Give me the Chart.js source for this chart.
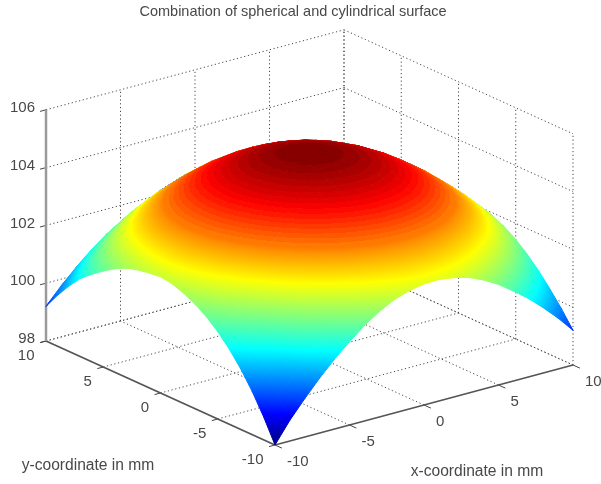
<!DOCTYPE html>
<html>
<head>
<meta charset="utf-8">
<title>Combination of spherical and cylindrical surface</title>
<script src="https://cdn.jsdelivr.net/npm/chart.js@4"></script>
<style>
    html, body { margin: 0; padding: 0; background: #fff; }
    canvas { display: block; }
</style>
</head>
<body>
<canvas id="surfaceChart" width="601" height="484"></canvas>
<script>
// Tick values on the three axes
const xTicks = [-10, -5, 0, 5, 10];
const yTicks = [-10, -5, 0, 5, 10];
const zTicks = [98, 100, 102, 104, 106];

// Surface height, every 1 mm. One row per y, from y = -10 to y = 10
const xGrid = [-10, -9, -8, -7, -6, -5, -4, -3, -2, -1, 0, 1, 2, 3, 4, 5, 6, 7, 8, 9, 10];
const yGrid = [-10, -9, -8, -7, -6, -5, -4, -3, -2, -1, 0, 1, 2, 3, 4, 5, 6, 7, 8, 9, 10];
const zRows = [
    [98.00,98.72,99.33,99.90,100.42,100.88,101.30,101.65,101.92,102.09,102.19,102.20,102.13,102.00,101.77,101.48,101.11,100.72,100.26,99.76,99.20],
    [98.80,99.40,99.94,100.49,100.98,101.42,101.83,102.15,102.39,102.55,102.64,102.65,102.59,102.46,102.25,101.98,101.63,101.24,100.80,100.30,99.76],
    [99.50,100.03,100.52,101.05,101.53,101.95,102.31,102.60,102.82,102.97,103.05,103.07,103.01,102.88,102.69,102.43,102.11,101.73,101.29,100.80,100.26],
    [100.10,100.59,101.05,101.57,102.03,102.44,102.78,103.06,103.27,103.42,103.49,103.50,103.44,103.31,103.12,102.86,102.54,102.16,101.73,101.24,100.72],
    [100.60,101.07,101.53,102.03,102.48,102.87,103.20,103.47,103.67,103.81,103.88,103.88,103.82,103.69,103.49,103.23,102.91,102.54,102.11,101.63,101.11],
    [101.02,101.51,101.95,102.44,102.87,103.25,103.57,103.83,104.02,104.15,104.22,104.21,104.14,104.01,103.81,103.55,103.23,102.86,102.43,101.96,101.44],
    [101.36,101.86,102.31,102.78,103.20,103.57,103.88,104.13,104.32,104.44,104.49,104.49,104.41,104.27,104.07,103.81,103.49,103.12,102.69,102.22,101.70],
    [101.62,102.13,102.60,103.06,103.47,103.83,104.13,104.37,104.55,104.66,104.71,104.70,104.62,104.48,104.27,104.01,103.69,103.31,102.88,102.41,101.90],
    [101.82,102.33,102.82,103.27,103.67,104.02,104.32,104.55,104.72,104.83,104.87,104.85,104.77,104.62,104.41,104.14,103.82,103.44,103.01,102.54,102.02],
    [101.96,102.48,102.97,103.42,103.81,104.15,104.44,104.66,104.83,104.93,104.97,104.94,104.85,104.70,104.49,104.21,103.88,103.50,103.07,102.59,102.07],
    [102.02,102.57,103.05,103.49,103.88,104.22,104.49,104.71,104.87,104.97,105.00,104.97,104.87,104.71,104.49,104.22,103.88,103.49,103.05,102.57,102.05],
    [101.97,102.54,103.07,103.50,103.88,104.21,104.49,104.70,104.85,104.94,104.97,104.93,104.83,104.66,104.44,104.15,103.81,103.42,102.97,102.48,101.95],
    [101.90,102.48,103.01,103.44,103.82,104.14,104.41,104.62,104.77,104.85,104.87,104.83,104.72,104.55,104.32,104.02,103.67,103.27,102.82,102.32,101.78],
    [101.78,102.35,102.88,103.31,103.69,104.01,104.27,104.48,104.62,104.70,104.71,104.66,104.55,104.37,104.13,103.83,103.47,103.06,102.60,102.09,101.54],
    [101.58,102.16,102.69,103.12,103.49,103.81,104.07,104.27,104.41,104.49,104.49,104.44,104.32,104.13,103.88,103.57,103.20,102.78,102.31,101.79,101.22],
    [101.32,101.92,102.43,102.86,103.23,103.55,103.81,104.01,104.14,104.21,104.22,104.15,104.02,103.83,103.57,103.25,102.87,102.44,101.95,101.42,100.84],
    [101.03,101.60,102.11,102.54,102.91,103.23,103.49,103.69,103.82,103.88,103.88,103.81,103.67,103.47,103.20,102.87,102.48,102.03,101.53,100.98,100.39],
    [100.70,101.24,101.73,102.16,102.54,102.86,103.12,103.31,103.44,103.50,103.49,103.42,103.27,103.06,102.78,102.44,102.03,101.57,101.05,100.49,99.88],
    [100.26,100.80,101.29,101.73,102.11,102.43,102.69,102.88,103.01,103.07,103.05,102.97,102.82,102.60,102.31,101.95,101.53,101.05,100.52,99.94,99.30],
    [99.76,100.30,100.80,101.24,101.63,101.96,102.22,102.41,102.54,102.59,102.57,102.48,102.32,102.09,101.79,101.42,100.98,100.49,99.94,99.33,98.68],
    [99.20,99.76,100.26,100.72,101.11,101.44,101.70,101.90,102.02,102.07,102.05,101.95,101.78,101.54,101.22,100.84,100.39,99.88,99.30,98.68,98.00]
];

const titleText = "Combination of spherical and cylindrical surface";
const xTitle = "x-coordinate in mm";
const yTitle = "y-coordinate in mm";

const fontFamily = "'Liberation Sans', Arial, sans-serif";
const textColour = "#484848";
const zMin = 98;
const zMax = 105;

// Fixed 3D view, matlab style, no perspective
function project(x, y, z) {
    return {
        x: 309.5 + 14.9 * x - 11.45 * y,
        y: 353 - 4 * x - 5.2 * y - 28.9 * (z - 98)
    };
}

// Matlab jet map
function jet(t) {
    const clamp = v => Math.round(255 * Math.max(0, Math.min(1, v)));
    const r = clamp(1.5 - Math.abs(4 * t - 3));
    const g = clamp(1.5 - Math.abs(4 * t - 2));
    const b = clamp(1.5 - Math.abs(4 * t - 1));
    return `rgb(${r},${g},${b})`;
}

// Colours are linear across a flat triangle, so one canvas gradient per triangle is exact
function triangleGradient(chart, tri) {
    const sx = chart.scales.x, sy = chart.scales.y;
    const p = tri.map(v => project(v[0], v[1], v[2]));
    const px = p.map(q => sx.getPixelForValue(q.x));
    const py = p.map(q => sy.getPixelForValue(q.y));
    const dz1 = tri[1][2] - tri[0][2], dz2 = tri[2][2] - tri[0][2];
    const x1 = px[1] - px[0], y1 = py[1] - py[0];
    const x2 = px[2] - px[0], y2 = py[2] - py[0];
    const det = x1 * y2 - x2 * y1;
    const gx = (dz1 * y2 - dz2 * y1) / det;
    const gy = (x1 * dz2 - x2 * dz1) / det;
    const g2 = gx * gx + gy * gy;
    if (!isFinite(g2) || g2 === 0) {
        return jet((tri[0][2] - zMin) / (zMax - zMin));
    }
    const a = (zMin - tri[0][2]) / g2;
    const b = (zMax - tri[0][2]) / g2;
    const grad = chart.ctx.createLinearGradient(
        px[0] + a * gx, py[0] + a * gy,
        px[0] + b * gx, py[0] + b * gy
    );
    // Bands only show in the reds on the original, lower down it looks smooth
    const steps = 64;
    for (let i = 0; i < steps; i++) {
        const t = i / steps;
        if (t < 0.75) {
            grad.addColorStop(t, jet(t));
        } else {
            const col = jet((i + 0.5) / steps);
            grad.addColorStop(t, col);
            grad.addColorStop((i + 1) / steps, col);
        }
    }
    return grad;
}

let datasets = [];

// Surface, front corner first because Chart.js paints the first dataset last
let cells = [];
for (let j = 0; j < yGrid.length - 1; j++) {
    for (let i = 0; i < xGrid.length - 1; i++) {
        cells.push([i, j]);
    }
}
cells.sort((a, b) => (a[0] + a[1]) - (b[0] + b[1]));

function addTriangle(tri) {
    const pts = tri.map(v => project(v[0], v[1], v[2]));
    pts.push(pts[0]);
    datasets.push({
        data: pts,
        fill: "shape",
        tension: 0,
        pointRadius: 0,
        borderWidth: 1,
        clip: false,
        backgroundColor: c => triangleGradient(c.chart, tri),
        borderColor: c => triangleGradient(c.chart, tri)
    });
}

for (const [i, j] of cells) {
    const a = [xGrid[i], yGrid[j], zRows[j][i]];
    const b = [xGrid[i + 1], yGrid[j], zRows[j][i + 1]];
    const c = [xGrid[i + 1], yGrid[j + 1], zRows[j + 1][i + 1]];
    const d = [xGrid[i], yGrid[j + 1], zRows[j + 1][i]];
    addTriangle([a, b, d]);
    addTriangle([b, c, d]);
}

function addLine(from, to, colour, width, dash) {
    datasets.push({
        data: [project(from[0], from[1], from[2]), project(to[0], to[1], to[2])],
        fill: false,
        tension: 0,
        pointRadius: 0,
        clip: false,
        borderColor: colour,
        borderWidth: width,
        borderDash: dash
    });
}

// Axis lines and tick marks
const axisColour = "#555555";
addLine([-10, 10, 98], [-10, 10, 106], "#9a9a9a", 2.5, []);
addLine([-10, 10, 98], [-10, -10, 98], axisColour, 1.8, []);
addLine([-10, -10, 98], [10, -10, 98], axisColour, 1.8, []);
for (const x of xTicks) {
    addLine([x, -10, 98], [x, -10.6, 98], "#444444", 1, []);
}
for (const y of yTicks) {
    addLine([-10, y, 98], [-10.4, y, 98], "#444444", 1, []);
}
for (const z of zTicks) {
    addLine([-10, 10, z], [-10.4, 10, z], "#444444", 1, []);
}

// Dotted grid on the floor and the two back walls
const gridColour = "#484848";
const gridDash = [1.2, 2.6];
for (const x of xTicks) {
    if (x > -10) addLine([x, -10, 98], [x, 10, 98], gridColour, 1, gridDash);
    if (x > -10) addLine([x, 10, 98], [x, 10, 106], gridColour, 1, gridDash);
}
for (const y of yTicks) {
    if (y > -10) addLine([-10, y, 98], [10, y, 98], gridColour, 1, gridDash);
    addLine([10, y, 98], [10, y, 106], gridColour, 1, gridDash);
}
for (const z of zTicks) {
    addLine([-10, 10, z], [10, 10, z], gridColour, 1, gridDash);
    addLine([10, 10, z], [10, -10, z], gridColour, 1, gridDash);
}

// Tick labels and axis names
const axisText = {
    id: "axisText",
    afterDraw(chart) {
        const c = chart.ctx;
        const sx = chart.scales.x, sy = chart.scales.y;
        const put = (text, p, dx, dy, align) => {
            c.textAlign = align;
            c.fillText(text, sx.getPixelForValue(p.x) + dx, sy.getPixelForValue(p.y) + dy);
        };
        c.save();
        c.font = "15px " + fontFamily;
        c.fillStyle = textColour;
        c.textBaseline = "middle";
        for (const x of xTicks) put(String(x), project(x, -10, 98), 12, 17, "left");
        for (const y of yTicks) put(String(y), project(-10, y, 98), -11.5, 15, "right");
        for (const z of zTicks) put(String(z), project(-10, 10, z), -11, -2, "right");
        c.font = "15.6px " + fontFamily;
        put(yTitle, { x: 88, y: 466 }, 0, 0, "center");
        put(xTitle, { x: 477, y: 472 }, 0, 0, "center");
        c.restore();
    }
};

new Chart(document.getElementById("surfaceChart"), {
    type: "line",
    data: { datasets: datasets },
    plugins: [axisText],
    options: {
        responsive: false,
        animation: false,
        events: [],
        layout: { padding: { right: 15 } },
        plugins: {
            legend: { display: false },
            tooltip: { enabled: false },
            title: {
                display: true,
                text: titleText,
                color: textColour,
                font: { family: fontFamily, size: 14.5, weight: "normal" },
                padding: { top: 3.6, bottom: 1 }
            }
        },
        scales: {
            x: { type: "linear", display: false, min: 0, max: 586 },
            y: { type: "linear", display: false, min: 22, max: 484, reverse: true }
        }
    }
});
</script>
</body>
</html>
